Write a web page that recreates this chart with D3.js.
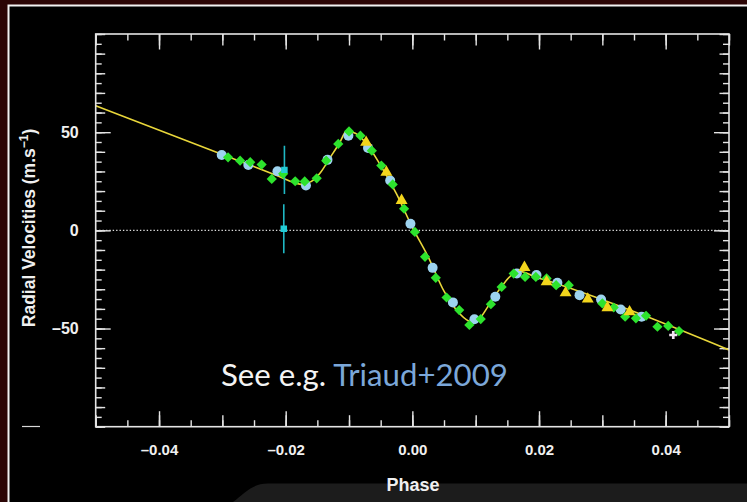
<!DOCTYPE html>
<html>
<head>
<meta charset="utf-8">
<script src="https://cdn.jsdelivr.net/npm/d3@7"></script>
<style>
  html, body { margin: 0; padding: 0; background: #000; }
  svg { display: block; }
</style>
</head>
<body>
<svg id="chart" width="747" height="502"></svg>
<script>
// Rossiter–McLaughlin effect: radial velocity against orbital phase

// Best-fit model curve (phase, m/s)
const modelPhase = [-0.05, -0.030, -0.0215, -0.0195, -0.0175, -0.0160, -0.0145, -0.0130, -0.0115, -0.0104,
                    -0.0090, -0.0072, -0.0050, -0.0025, 0.0000, 0.0025, 0.0050, 0.0072, 0.0088, 0.0096,
                    0.0105, 0.0120, 0.0140, 0.0160, 0.0172, 0.0190, 0.0220, 0.05];
const modelRV    = [63.5, 38.6, 28.0, 25.3, 23.4, 24.8, 29.5, 37.0, 44.5, 50.5,
                    49.5, 44.0, 33.0, 18.6, 1.5, -13.5, -31.0, -41.5, -46.0, -46.6,
                    -45.3, -38.5, -29.0, -22.0, -21.0, -23.2, -26.3, -60.9];

// Light-blue circles
const circlePhase = [-0.0301, -0.0259, -0.0213, -0.0168, -0.0134, -0.0101, -0.0070, -0.0035, -0.0003, 0.0032,
                     0.0064, 0.0098, 0.0131, 0.0165, 0.0196, 0.0229, 0.0264, 0.0298, 0.0329, 0.0362];
const circleRV    = [38.4, 33.3, 30.1, 22.8, 35.9, 48.2, 42.0, 25.4, 3.4, -19.1,
                     -36.7, -45.3, -33.8, -22.0, -22.8, -26.7, -33.0, -35.2, -40.3, -44.0];

// Green diamonds
const diamondPhase = [-0.0291, -0.0272, -0.0256, -0.0238, -0.0222, -0.0204, -0.0185, -0.0170, -0.0151, -0.0136,
                      -0.0117, -0.0100, -0.0082, -0.0064, -0.0049, -0.0031, -0.0013, 0.0004, 0.0020, 0.0037,
                      0.0054, 0.0074, 0.0090, 0.0108, 0.0124, 0.0141, 0.0160, 0.0178, 0.0195, 0.0212,
                      0.0227, 0.0247, 0.0300, 0.0318, 0.0336, 0.0353, 0.0369, 0.0387, 0.0404, 0.0421];
const diamondRV    = [37.2, 35.5, 34.7, 33.5, 26.2, 28.8, 25.0, 24.9, 26.5, 35.5,
                      44.0, 50.4, 48.2, 40.6, 33.0, 23.4, 11.0, -0.8, -13.5, -24.2,
                      -34.2, -40.6, -48.2, -45.2, -37.6, -28.8, -22.0, -23.7, -23.7, -24.5,
                      -27.9, -27.9, -37.2, -39.3, -44.0, -44.8, -43.5, -49.1, -48.7, -51.3];

// Yellow triangles
const trianglePhase = [-0.0073, -0.0041, -0.0017, 0.0177, 0.0212, 0.0242, 0.0277, 0.0308, 0.0343];
const triangleRV    = [44.8, 29.6, 15.2, -18.9, -26.2, -31.8, -35.0, -39.4, -41.5];

// Cyan squares with error bars
const squarePhase = [-0.0202, -0.0203];
const squareRV    = [30.8, 0.8];
const squareErr   = [12.3, 12.5];

// Single outlying point
const crossPhase = [0.0412];
const crossRV    = [-53.3];

// Axis tick labels
const xTickValues = [-0.04, -0.02, 0.00, 0.02, 0.04];
const xTickLabels = ["\u20130.04", "\u20130.02", "0.00", "0.02", "0.04"];
const yTickValues = [-50, 0, 50];
const yTickLabels = ["\u201350", "0", "50"];

const W = 747, H = 502;
const plot = { left: 95.7, right: 729, top: 34, bottom: 426.7 };

const svg = d3.select("#chart");

// ---- frame ----
svg.append("rect").attr("width", W).attr("height", H).attr("fill", "#2b0505");
svg.append("rect").attr("x", 7.5).attr("y", 4.5).attr("width", W).attr("height", H).attr("fill", "#f2f2f2");
svg.append("rect").attr("x", 9.5).attr("y", 6.5).attr("width", W).attr("height", H).attr("fill", "#000");
// grey strip at the foot
svg.append("path")
  .attr("d", `M233,502 C245,493 252,483.5 268,483.5 L${W},483.5 L${W},${H} Z`)
  .attr("fill", "#1c1c1c");
svg.append("line").attr("x1", 22).attr("x2", 40).attr("y1", 426.5).attr("y2", 426.5)
  .attr("stroke", "#d8d8d8").attr("stroke-width", 1.2);

const x = d3.scaleLinear().domain([-0.05, 0.05]).range([plot.left, plot.right]);
const y = d3.scaleLinear().domain([-100, 100]).range([plot.bottom, plot.top]);

const axisColor = "#e4e4e4";

// ---- tick marks on all four sides ----
function xTicks(values, len) {
  svg.append("g").attr("transform", `translate(0,${plot.bottom})`)
    .call(d3.axisTop(x).tickValues(values).tickSize(len).tickFormat(""))
    .call(g => g.select(".domain").remove());
  svg.append("g").attr("transform", `translate(0,${plot.top})`)
    .call(d3.axisBottom(x).tickValues(values).tickSize(len).tickFormat(""))
    .call(g => g.select(".domain").remove());
}
function yTicks(values, len) {
  svg.append("g").attr("transform", `translate(${plot.left},0)`)
    .call(d3.axisRight(y).tickValues(values).tickSize(len).tickFormat(""))
    .call(g => g.select(".domain").remove());
  svg.append("g").attr("transform", `translate(${plot.right},0)`)
    .call(d3.axisLeft(y).tickValues(values).tickSize(len).tickFormat(""))
    .call(g => g.select(".domain").remove());
}
xTicks(x.ticks(20), 6.5);
xTicks(x.ticks(10), 11.5);
xTicks(xTickValues, 15.5);
yTicks(y.ticks(40), 6);
yTicks(y.ticks(20), 9.5);
yTicks(yTickValues, 15);
svg.selectAll(".tick line").attr("stroke", axisColor).attr("stroke-width", 1.4);

// ---- tick labels ----
svg.append("g").attr("transform", `translate(0,${plot.bottom})`)
  .call(d3.axisBottom(x).tickValues(xTickValues).tickSize(0).tickPadding(18)
        .tickFormat((d, i) => xTickLabels[i]))
  .call(g => g.select(".domain").remove())
  .selectAll("text")
  .attr("fill", "#f0f0f0").attr("font-family", "'Liberation Sans', Arial, sans-serif")
  .attr("font-weight", "bold").attr("font-size", 15);

svg.append("g").attr("transform", `translate(${plot.left},0)`)
  .call(d3.axisLeft(y).tickValues(yTickValues).tickSize(0).tickPadding(17)
        .tickFormat((d, i) => yTickLabels[i]))
  .call(g => g.select(".domain").remove())
  .selectAll("text")
  .attr("fill", "#f0f0f0").attr("font-family", "'Liberation Sans', Arial, sans-serif")
  .attr("font-weight", "bold").attr("font-size", 16);

// ---- axis titles ----
svg.append("text")
  .attr("x", 413).attr("y", 490.5).attr("text-anchor", "middle")
  .attr("fill", "#f0f0f0").attr("font-family", "'Liberation Sans', Arial, sans-serif")
  .attr("font-weight", "bold").attr("font-size", 18).text("Phase");

const yTitle = svg.append("text")
  .attr("transform", "translate(35,228) rotate(-90)").attr("text-anchor", "middle")
  .attr("fill", "#f0f0f0").attr("font-family", "'Liberation Sans', Arial, sans-serif")
  .attr("font-weight", "bold").attr("font-size", 17.5);
yTitle.append("tspan").text("Radial Velocities (m.s");
yTitle.append("tspan").attr("font-size", 12).attr("dy", -7).text("\u22121");
yTitle.append("tspan").attr("dy", 7).text(")");

// ---- plot area ----
svg.append("clipPath").attr("id", "plotClip").append("rect")
  .attr("x", plot.left).attr("y", plot.top)
  .attr("width", plot.right - plot.left).attr("height", plot.bottom - plot.top);

const area = svg.append("g").attr("clip-path", "url(#plotClip)");

// zero reference
area.append("line")
  .attr("x1", plot.left).attr("x2", plot.right).attr("y1", y(0)).attr("y2", y(0))
  .attr("stroke", "#dcdcdc").attr("stroke-width", 1.3).attr("stroke-dasharray", "1.4,2");

// model
const model = modelPhase.map((p, i) => [p, modelRV[i]]);
area.append("path").datum(model)
  .attr("fill", "none").attr("stroke", "#e8d63a").attr("stroke-width", 1.6)
  .attr("d", d3.line().x(d => x(d[0])).y(d => y(d[1])).curve(d3.curveMonotoneX));

// cyan error bars and squares
const squares = squarePhase.map((p, i) => ({ p, v: squareRV[i], e: squareErr[i] }));
area.selectAll(".err").data(squares).join("line")
  .attr("x1", d => x(d.p)).attr("x2", d => x(d.p))
  .attr("y1", d => y(d.v + d.e)).attr("y2", d => y(d.v - d.e))
  .attr("stroke", "#1fb8c4").attr("stroke-width", 1.6);

// light-blue circles
area.selectAll(".circ").data(circlePhase.map((p, i) => [p, circleRV[i]])).join("circle")
  .attr("cx", d => x(d[0])).attr("cy", d => y(d[1])).attr("r", 5)
  .attr("fill", "#9dd3ef");

// green diamonds
area.selectAll(".dia").data(diamondPhase.map((p, i) => [p, diamondRV[i]])).join("path")
  .attr("transform", d => `translate(${x(d[0])},${y(d[1])}) rotate(45)`)
  .attr("d", d3.symbol(d3.symbolSquare, 52)())
  .attr("fill", "#2de32d");

// yellow triangles
area.selectAll(".tri").data(trianglePhase.map((p, i) => [p, triangleRV[i]])).join("path")
  .attr("transform", d => `translate(${x(d[0])},${y(d[1])})`)
  .attr("d", d3.symbol(d3.symbolTriangle, 62)())
  .attr("fill", "#f2d51c");

area.selectAll(".sq").data(squares).join("path")
  .attr("transform", d => `translate(${x(d.p)},${y(d.v)})`)
  .attr("d", d3.symbol(d3.symbolSquare, 42)())
  .attr("fill", "#22ccd6");

area.selectAll(".cross").data(crossPhase.map((p, i) => [p, crossRV[i]])).join("path")
  .attr("transform", d => `translate(${x(d[0])},${y(d[1])})`)
  .attr("d", d3.symbol(d3.symbolCross, 36)())
  .attr("fill", "#f3e3f3");

// axis box
svg.append("rect")
  .attr("x", plot.left).attr("y", plot.top)
  .attr("width", plot.right - plot.left).attr("height", plot.bottom - plot.top)
  .attr("fill", "none").attr("stroke", axisColor).attr("stroke-width", 1.6);

// ---- reference note ----
const note = svg.append("text")
  .attr("x", 221).attr("y", 386)
  .attr("font-family", "Lato, 'Open Sans', sans-serif").attr("font-size", 28);
note.append("tspan").attr("fill", "#f4f4f4").text("See e.g. ");
note.append("tspan").attr("fill", "#7ba7d9").text("Triaud+2009");
const w = note.node().getComputedTextLength();
note.attr("font-size", 28 * 287 / w);
</script>
</body>
</html>
